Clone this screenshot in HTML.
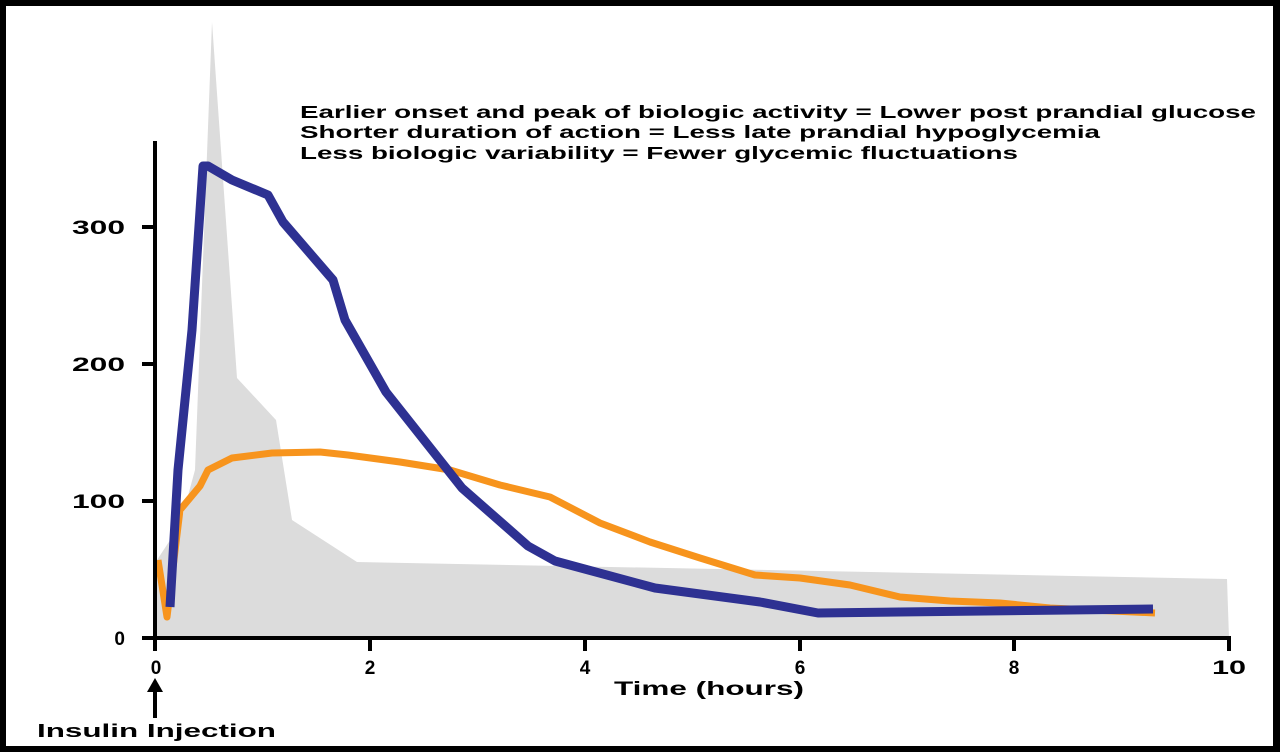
<!DOCTYPE html>
<html><head><style>body{margin:0;background:#000}svg{display:block}</style></head><body>
<svg width="1280" height="752" xmlns="http://www.w3.org/2000/svg" font-family="Liberation Sans, Arial, sans-serif" font-weight="bold">
<rect x="0" y="0" width="1280" height="752" fill="#000"/>
<rect x="6" y="6" width="1267" height="740" fill="#fff"/>
<polygon points="155,638 157,560 180,525 195,470 212,22 237,378 276,420 292,520 357,562 1227,579 1229,638" fill="#dcdcdc"/>
<polyline points="158,560 167,617 180,510 200,486 208,470 232,458 272,453 320,452 348,455 400,462 450,470 500,485 550,497 600,523 650,542 700,558 755,575 800,578 850,585 900,597 950,601 1000,603 1050,608 1155,613" fill="none" stroke="#f7941d" stroke-width="7" stroke-linejoin="round"/>
<polyline points="170,607 178,470 192,330 203,166 208,166 232,180 268,195 283,222 333,280 345,320 386,392 462,488 528,546 555,561 655,588 760,602 818,613 1153,609" fill="none" stroke="#2e3192" stroke-width="9" stroke-linejoin="round"/>
<g stroke="#000" stroke-width="4">
<line x1="155" y1="141" x2="155" y2="640"/>
<line x1="153" y1="638" x2="1231" y2="638"/>
<line x1="142" y1="227" x2="155" y2="227"/>
<line x1="142" y1="364" x2="155" y2="364"/>
<line x1="142" y1="501" x2="155" y2="501"/>
<line x1="142" y1="638" x2="155" y2="638"/>
<line x1="155" y1="638" x2="155" y2="651"/>
<line x1="370" y1="638" x2="370" y2="651"/>
<line x1="585" y1="638" x2="585" y2="651"/>
<line x1="800" y1="638" x2="800" y2="651"/>
<line x1="1014" y1="638" x2="1014" y2="651"/>
<line x1="1229" y1="638" x2="1229" y2="651"/>
<line x1="155" y1="686" x2="155" y2="718"/>
</g>
<polygon points="155,678 147,692 163,692" fill="#000"/>
<g font-size="19" text-anchor="end">
<text x="125" y="234" textLength="53" lengthAdjust="spacingAndGlyphs">300</text><text x="125" y="371" textLength="53" lengthAdjust="spacingAndGlyphs">200</text><text x="125" y="508" textLength="53" lengthAdjust="spacingAndGlyphs">100</text><text x="125" y="645">0</text>
</g>
<g font-size="19" text-anchor="middle">
<text x="156" y="674">0</text><text x="370" y="674">2</text><text x="585" y="674">4</text><text x="800" y="674">6</text><text x="1014" y="674">8</text><text x="1229" y="674" textLength="34" lengthAdjust="spacingAndGlyphs">10</text>
<text x="709" y="695" textLength="190" lengthAdjust="spacingAndGlyphs">Time (hours)</text>
</g>
<text x="37" y="737" font-size="18" textLength="239" lengthAdjust="spacingAndGlyphs">Insulin Injection</text>
<g font-size="17.5">
<text x="300" y="118" textLength="956" lengthAdjust="spacingAndGlyphs">Earlier onset and peak of biologic activity = Lower post prandial glucose</text>
<text x="300" y="138" textLength="800" lengthAdjust="spacingAndGlyphs">Shorter duration of action = Less late prandial hypoglycemia</text>
<text x="300" y="159" textLength="718" lengthAdjust="spacingAndGlyphs">Less biologic variability = Fewer glycemic fluctuations</text>
</g>
</svg>
</body></html>
